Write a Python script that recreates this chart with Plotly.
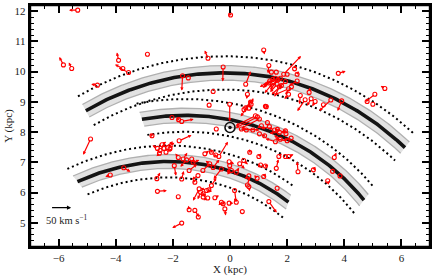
import numpy as np
import plotly.graph_objects as go

# ---------------- spiral-arm model (log spirals about the Galactic centre) ----------------
ARM_NAMES = ["Perseus", "Local", "Sagittarius"]
ARM_R_KINK = [9.92, 8.41, 7.08]          # kpc
ARM_BETA_KINK = [10.0, 0.0, -10.0]       # deg
ARM_PITCH_LT = [1.15, 10.4, 16.96]       # deg (beta < kink)
ARM_PITCH_GT = [2.86, 10.4, 16.96]       # deg (beta > kink)
ARM_BETA_MIN = [-30.1, -20.1, -40.0]
ARM_BETA_MAX = [39.3, 39.2, 19.8]
BAND_HALF = 0.24       # kpc, grey band half width
DOT_OFFSET = 0.55      # kpc, dotted lines offset
R_SUN = 8.15

# ---------------- sources: position (kpc) and velocity (km/s) ----------------
STAR_X = [-5.33, -5.83, -5.54, -3.90, -3.75, -3.55, -2.89, -4.64, -0.77, -1.66,
          -1.46, -0.59, -0.73, -0.48, -2.03, -1.80, -1.69, -2.73, -4.88, -3.72,
          -4.19, -2.56, -2.54, -1.81, -1.69, 0.02, 1.18, 1.36, 0.55, -0.24,
          1.45, 1.62, 1.88, 2.26, 2.00, 2.35, 1.39, 1.50, 1.59, 1.68,
          1.76, 1.36, 1.53, 1.65, 1.80, 1.94, 1.73, 2.35, 2.15, 2.05,
          2.05, 2.46, 2.63, 2.84, 2.98, 3.53, 3.91, 3.79, 5.42, 5.07,
          4.80, 5.00, 3.27, 2.77, 0.61, 0.72, 0.66, 0.49, 1.24, 3.65,
          2.92, 3.59, 3.85, 3.42, 2.38, 2.05, -0.01, 0.89, 0.96, 1.03,
          0.40, 1.03, 1.21, 0.55, 0.74, 1.27, 0.80, 0.57, 1.31, 1.66,
          1.94, 1.10, -0.39, -1.78, -0.65, 0.69, -0.88, -2.54, -2.45, -2.31,
          -2.19, -2.47, -2.24, -2.38, -2.10, -1.81, -1.64, -1.52, -1.34, -1.29,
          -1.95, -1.69, -1.23, -1.08, -1.03, -0.94, -0.82, -0.74, -0.65, -0.71,
          -0.59, -0.30, -0.01, 0.05, 0.22, 0.34, -1.43, -1.12, -0.95, -1.43,
          -1.23, -1.11, -0.30, -0.24, -0.18, -0.03, 0.16, 0.22, 0.43, -0.94,
          -0.78, -0.53, 1.01, 1.07, 1.24, 0.95, 1.18, 0.66, 0.61, 0.66,
          1.65, 1.36, 1.62, 1.71, 1.94, -0.50, -0.03, 0.48, 1.38, 1.56,
          1.73, 1.96, 2.14, 1.59, 1.76, 2.00]
STAR_Y = [12.03, 10.22, 10.10, 10.37, 10.10, 9.97, 10.57, 9.55, 10.44, 9.86,
          9.79, 9.34, 8.89, 8.10, 8.48, 8.41, 8.35, 7.88, 7.77, 6.82,
          6.58, 6.46, 6.04, 5.86, 4.99, 11.87, 10.71, 10.20, 9.58, 10.15,
          9.98, 9.98, 9.91, 10.09, 9.91, 9.91, 9.69, 9.74, 9.78, 9.73,
          9.78, 9.62, 9.65, 9.58, 9.54, 9.67, 9.50, 9.69, 9.50, 9.43,
          9.25, 9.21, 9.07, 9.10, 9.01, 9.06, 9.03, 9.94, 9.44, 9.25,
          9.01, 8.92, 8.90, 9.31, 9.25, 8.99, 8.79, 8.74, 8.85, 7.16,
          6.75, 6.70, 6.55, 6.39, 6.69, 7.19, 8.92, 8.54, 8.50, 8.43,
          8.10, 7.94, 7.88, 8.80, 8.92, 8.84, 8.07, 8.07, 8.31, 8.09,
          8.04, 8.21, 7.19, 7.71, 7.33, 7.33, 7.28, 7.46, 7.39, 7.46,
          7.49, 7.30, 7.33, 7.58, 7.45, 7.16, 7.11, 7.08, 7.11, 7.00,
          6.89, 6.45, 6.34, 6.12, 6.01, 5.96, 6.07, 6.09, 6.23, 6.95,
          6.83, 6.78, 6.89, 6.73, 6.67, 6.95, 6.73, 6.56, 6.73, 5.43,
          5.41, 5.19, 5.68, 5.63, 5.46, 5.65, 6.07, 5.68, 5.37, 5.85,
          5.82, 5.83, 7.19, 6.91, 6.88, 6.47, 6.53, 6.55, 6.25, 6.20,
          6.14, 5.70, 6.80, 7.19, 7.19, 7.24, 7.02, 7.06, 8.18, 8.07,
          7.99, 7.94, 7.80, 7.68, 7.76, 7.71]
STAR_VX = [-21, -10, -7, -4, -19, -24, 1, -15, -8, -2,
           -4, 1, 1, -2, 2, -5, 29, -5, -18, 16,
           -12, 8, 23, 0, -23, -5, 2, -2, 12, -1,
           -5, -2, 42, 2, 2, 4, -24, -22, -29, -19,
           -27, -15, -22, -17, -24, -17, -12, -19, -15, -34,
           -10, -2, -19, -10, -7, -28, -10, 18, -10, -23,
           -5, -2, 2, 2, -2, -24, 7, 12, 8, 5,
           5, 1, 1, 2, -2, 12, 0, -48, -53, -44,
           44, 2, -7, 15, 5, 5, -29, 2, -5, 5,
           -7, -10, 22, 30, 0, 0, 10, -12, 12, 22,
           17, -7, 15, 10, 7, -7, 10, -15, 7, 15,
           4, 5, -5, -15, -7, 5, -15, 7, 12, -10,
           15, -19, -5, -10, 7, 12, 19, -15, 17, -2,
           10, 1, -7, 5, 2, 10, 4, -5, 1, 7,
           -10, 10, 5, -7, 7, -7, 5, -10, 5, 2,
           1, 19, 5, 7, -5, -5, 12, 10, -19, -15,
           -24, -12, -19, -24, -15, -29]
STAR_VY = [0, 18, 14, 18, 9, 11, 1, 2, 18, -34,
           2, -1, 0, 2, 3, 5, 5, 5, -36, -9,
           -4, 14, 2, -1, -11, 5, -10, -18, 30, -33,
           2, -2, 42, 9, -2, 7, -14, -18, -16, -23,
           -21, -11, -25, -18, -21, -14, -23, -11, -18, -14,
           -11, -20, -26, -16, -11, -25, -23, 5, 6, -17,
           2, 2, -2, 11, -11, -33, 7, 9, 0, 11,
           7, -1, -1, -9, 23, 5, -39, -23, -25, -21,
           -2, -2, 2, 18, 14, 2, 2, -2, -2, -5,
           -2, -5, 34, 13, 7, 7, 7, 7, 16, 16,
           11, -7, 7, 7, 7, 9, 14, -16, -9, 5,
           -23, 18, 7, -27, -16, -5, 5, -5, 18, 7,
           18, -23, -18, -9, 11, -11, 14, -9, 16, 9,
           -15, -1, -7, 5, -15, 0, -27, 9, -1, 7,
           -5, 5, 7, -5, 2, 7, 7, -7, 18, -11,
           -1, -25, 21, 7, -2, -5, -5, -9, -5, 5,
           -2, 7, -5, 7, 9, 5]

SCALE_SPEED = 50.0           # km/s shown by the reference arrow
SCALE_LEN = 0.72             # kpc drawn for SCALE_SPEED
SCALE_POS = (-6.28, 5.50)
SCALE_LABEL = "50 km s<sup>−1</sup>"
SCALE_LABEL_POS = (-5.72, 5.10)

X_TICKS = [-6, -4, -2, 0, 2, 4, 6]
Y_TICKS = [5, 6, 7, 8, 9, 10, 11, 12]

FONT = "Liberation Serif"
TXT = "#222222"
k = SCALE_LEN / SCALE_SPEED

fig = go.Figure()


def arm_radius(i, beta):
    psi = np.where(beta < ARM_BETA_KINK[i], ARM_PITCH_LT[i], ARM_PITCH_GT[i])
    return ARM_R_KINK[i] * np.exp(-np.radians(beta - ARM_BETA_KINK[i]) * np.tan(np.radians(psi)))


def xy(r, beta):
    b = np.radians(beta)
    return r * np.sin(b), r * np.cos(b)


for i in range(len(ARM_NAMES)):
    beta = np.linspace(ARM_BETA_MIN[i], ARM_BETA_MAX[i], 200)
    r = arm_radius(i, beta)
    xo, yo = xy(r + BAND_HALF, beta)
    xi, yi = xy(r - BAND_HALF, beta)
    fig.add_trace(go.Scatter(x=np.concatenate([xo, xi[::-1]]), y=np.concatenate([yo, yi[::-1]]),
                             fill="toself", fillcolor="#e2e2e2", mode="none",
                             hoverinfo="skip", showlegend=False))
    for xe, ye in ((xo, yo), (xi, yi)):
        fig.add_trace(go.Scatter(x=xe, y=ye, mode="lines", line=dict(color="#b0b0b0", width=1.3),
                                 hoverinfo="skip", showlegend=False))
    for off in (DOT_OFFSET, -DOT_OFFSET):
        xd, yd = xy(r + off, beta)
        fig.add_trace(go.Scatter(x=xd, y=yd, mode="lines",
                                 line=dict(color="black", width=2, dash="2px,3px"),
                                 hoverinfo="skip", showlegend=False))
    xc, yc = xy(r, beta)
    fig.add_trace(go.Scatter(x=xc, y=yc, mode="lines", line=dict(color="#141414", width=3.6),
                             hoverinfo="skip", showlegend=False))

# velocity vectors
annotations = []
for sx, sy, vx, vy in zip(STAR_X, STAR_Y, STAR_VX, STAR_VY):
    if (vx * vx + vy * vy) ** 0.5 < 4:
        continue
    annotations.append(dict(x=sx + vx * k, y=sy + vy * k, ax=sx, ay=sy,
                            xref="x", yref="y", axref="x", ayref="y",
                            showarrow=True, arrowhead=2, arrowsize=0.55, arrowwidth=1.2,
                            arrowcolor="#ff0000", text=""))

fig.add_trace(go.Scatter(x=STAR_X, y=STAR_Y, mode="markers",
                         marker=dict(symbol="circle-open", size=4, color="#ff0000",
                                     line=dict(width=1.1, color="#ff0000")),
                         hoverinfo="skip", showlegend=False))

# Sun
fig.add_trace(go.Scatter(x=[0], y=[R_SUN], mode="markers",
                         marker=dict(symbol="circle-open", size=10, color="#111",
                                     line=dict(width=1.6, color="#111")),
                         hoverinfo="skip", showlegend=False))
fig.add_trace(go.Scatter(x=[0], y=[R_SUN], mode="markers",
                         marker=dict(symbol="circle", size=3.5, color="#111"),
                         hoverinfo="skip", showlegend=False))

# scale arrow
annotations.append(dict(x=SCALE_POS[0] + SCALE_LEN, y=SCALE_POS[1], ax=SCALE_POS[0], ay=SCALE_POS[1],
                        xref="x", yref="y", axref="x", ayref="y", showarrow=True,
                        arrowhead=2, arrowsize=0.7, arrowwidth=1.2, arrowcolor="black", text=""))
annotations.append(dict(x=SCALE_LABEL_POS[0], y=SCALE_LABEL_POS[1], xref="x", yref="y",
                        text=SCALE_LABEL, showarrow=False,
                        font=dict(family=FONT, size=10.5, color=TXT)))

axis_common = dict(showgrid=False, zeroline=False, showline=True, linecolor="#000000", linewidth=2.4,
                   mirror="allticks", ticks="inside", ticklen=8, tickwidth=2, tickcolor="#000000",
                   layer="above traces", automargin=False,
                   tickfont=dict(family=FONT, size=11, color=TXT))
fig.update_xaxes(range=[-7, 7], tickvals=X_TICKS, **axis_common,
                 minor=dict(dtick=0.5, ticks="inside", ticklen=4, tickwidth=1.2, tickcolor="#000000"),
                 title=dict(text="X (kpc)", font=dict(family=FONT, size=11, color=TXT), standoff=0))
fig.update_yaxes(range=[4.2, 12.2], tickvals=Y_TICKS, **axis_common,
                 minor=dict(dtick=0.2, ticks="inside", ticklen=4, tickwidth=1.2, tickcolor="#000000"),
                 title=dict(text="Y (kpc)", font=dict(family=FONT, size=11, color=TXT), standoff=0))
fig.update_layout(width=436, height=276, margin=dict(l=30, r=6, t=5, b=29, autoexpand=False),
                  paper_bgcolor="white", plot_bgcolor="white", showlegend=False,
                  annotations=annotations,
                  shapes=[dict(type="rect", xref="paper", yref="paper", x0=0, y0=0, x1=1, y1=1,
                               line=dict(color="#000000", width=2.4), layer="above")])

fig.write_html("out.html", config={"displayModeBar": False},
               post_script="document.body.style.margin='0px';")
